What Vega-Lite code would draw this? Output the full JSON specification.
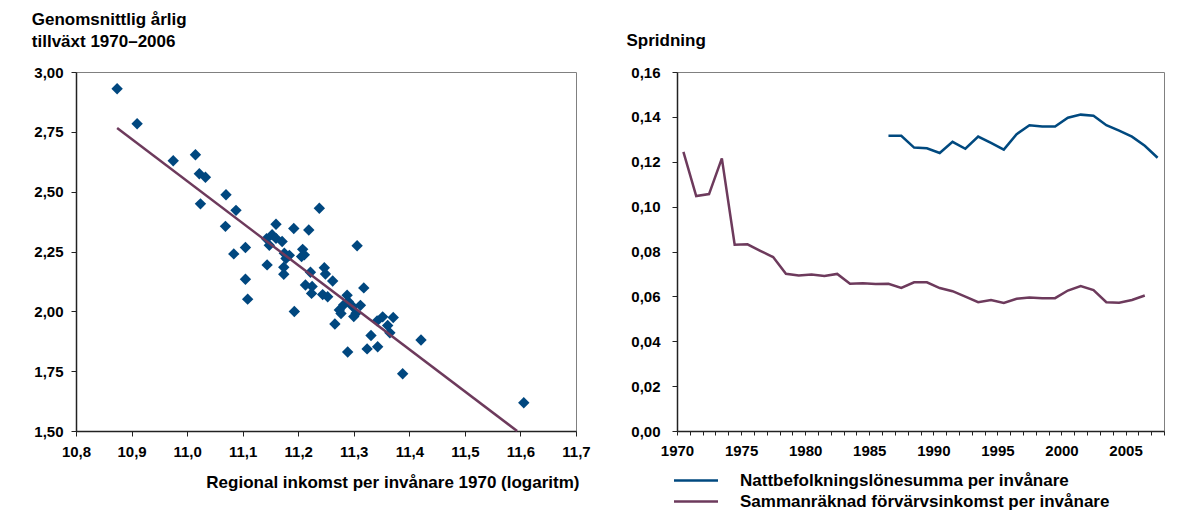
{
  "$schema": "https://vega.github.io/schema/vega-lite/v6.json",
  "background": "white",
  "padding": {"left": 30, "top": 9, "right": 5, "bottom": 5},
  "config": {
    "font": "Liberation Sans",
    "view": {"stroke": "#808080", "strokeWidth": 1},
    "axis": {
      "labelFont": "Liberation Sans", "labelFontWeight": "bold", "labelFontSize": 15, "labelColor": "#000",
      "domainColor": "#222", "domainWidth": 1.5, "tickColor": "#222", "tickSize": 5, "grid": false,
      "titleFont": "Liberation Sans", "titleFontWeight": "bold", "titleColor": "#000",
      "labelFlush": false, "labelOverlap": false
    }
  },
  "bounds": "flush",
  "spacing": 101,
  "hconcat": [
    {
      "width": 500,
      "height": 359,
      "layer": [
        {
          "data": {"values": [
            {"inkomst": 10.874, "tillvaxt": 2.930}, {"inkomst": 10.910, "tillvaxt": 2.784}, {"inkomst": 10.975, "tillvaxt": 2.629},
            {"inkomst": 11.015, "tillvaxt": 2.654}, {"inkomst": 11.022, "tillvaxt": 2.575}, {"inkomst": 11.033, "tillvaxt": 2.560},
            {"inkomst": 11.024, "tillvaxt": 2.449}, {"inkomst": 11.070, "tillvaxt": 2.487}, {"inkomst": 11.088, "tillvaxt": 2.422},
            {"inkomst": 11.069, "tillvaxt": 2.355}, {"inkomst": 11.084, "tillvaxt": 2.240}, {"inkomst": 11.105, "tillvaxt": 2.267},
            {"inkomst": 11.160, "tillvaxt": 2.364}, {"inkomst": 11.192, "tillvaxt": 2.346}, {"inkomst": 11.219, "tillvaxt": 2.340},
            {"inkomst": 11.238, "tillvaxt": 2.431}, {"inkomst": 11.143, "tillvaxt": 2.303}, {"inkomst": 11.153, "tillvaxt": 2.320},
            {"inkomst": 11.160, "tillvaxt": 2.305}, {"inkomst": 11.171, "tillvaxt": 2.292}, {"inkomst": 11.148, "tillvaxt": 2.276},
            {"inkomst": 11.175, "tillvaxt": 2.243}, {"inkomst": 11.184, "tillvaxt": 2.234}, {"inkomst": 11.178, "tillvaxt": 2.221},
            {"inkomst": 11.208, "tillvaxt": 2.259}, {"inkomst": 11.211, "tillvaxt": 2.236}, {"inkomst": 11.206, "tillvaxt": 2.229},
            {"inkomst": 11.144, "tillvaxt": 2.194}, {"inkomst": 11.174, "tillvaxt": 2.184}, {"inkomst": 11.174, "tillvaxt": 2.155},
            {"inkomst": 11.105, "tillvaxt": 2.134}, {"inkomst": 11.109, "tillvaxt": 2.051}, {"inkomst": 11.193, "tillvaxt": 1.999},
            {"inkomst": 11.213, "tillvaxt": 2.110}, {"inkomst": 11.225, "tillvaxt": 2.104}, {"inkomst": 11.224, "tillvaxt": 2.075},
            {"inkomst": 11.222, "tillvaxt": 2.163}, {"inkomst": 11.247, "tillvaxt": 2.182}, {"inkomst": 11.249, "tillvaxt": 2.156},
            {"inkomst": 11.262, "tillvaxt": 2.127}, {"inkomst": 11.244, "tillvaxt": 2.070}, {"inkomst": 11.253, "tillvaxt": 2.061},
            {"inkomst": 11.306, "tillvaxt": 2.274}, {"inkomst": 11.318, "tillvaxt": 2.098}, {"inkomst": 11.288, "tillvaxt": 2.067},
            {"inkomst": 11.290, "tillvaxt": 2.041}, {"inkomst": 11.282, "tillvaxt": 2.027}, {"inkomst": 11.274, "tillvaxt": 2.006},
            {"inkomst": 11.277, "tillvaxt": 1.991}, {"inkomst": 11.298, "tillvaxt": 2.020}, {"inkomst": 11.304, "tillvaxt": 1.992},
            {"inkomst": 11.300, "tillvaxt": 1.978}, {"inkomst": 11.312, "tillvaxt": 2.025}, {"inkomst": 11.266, "tillvaxt": 1.947},
            {"inkomst": 11.331, "tillvaxt": 1.899}, {"inkomst": 11.352, "tillvaxt": 1.977}, {"inkomst": 11.361, "tillvaxt": 1.941},
            {"inkomst": 11.365, "tillvaxt": 1.910}, {"inkomst": 11.371, "tillvaxt": 1.974}, {"inkomst": 11.342, "tillvaxt": 1.960},
            {"inkomst": 11.289, "tillvaxt": 1.830}, {"inkomst": 11.324, "tillvaxt": 1.843}, {"inkomst": 11.343, "tillvaxt": 1.852},
            {"inkomst": 11.421, "tillvaxt": 1.880}, {"inkomst": 11.388, "tillvaxt": 1.739}, {"inkomst": 11.606, "tillvaxt": 1.618}
          ]},
          "mark": {"type": "point", "shape": "diamond", "filled": true, "size": 130, "color": "#00477f", "opacity": 1},
          "encoding": {
            "x": {
              "field": "inkomst", "type": "quantitative",
              "scale": {"domain": [10.8, 11.7], "nice": false, "zero": false},
              "axis": {
                "values": [10.8, 10.9, 11.0, 11.1, 11.2, 11.3, 11.4, 11.5, 11.6, 11.7],
                "labelExpr": "replace(format(datum.value, '.1f'), '.', ',')",
                "labelPadding": 8,
                "title": "Regional inkomst per invånare 1970 (logaritm)",
                "titleFontSize": 17,
                "titleAlign": "right", "titleBaseline": "alphabetic", "titleAngle": 0,
                "titleX": 503, "titleY": 56
              }
            },
            "y": {
              "field": "tillvaxt", "type": "quantitative",
              "scale": {"domain": [1.5, 3.0], "nice": false, "zero": false},
              "axis": {
                "values": [1.5, 1.75, 2.0, 2.25, 2.5, 2.75, 3.0],
                "labelExpr": "replace(format(datum.value, '.2f'), '.', ',')",
                "labelPadding": 8,
                "title": ["Genomsnittlig årlig", "tillväxt 1970–2006"],
                "titleFontSize": 17, "titleLineHeight": 22,
                "titleAngle": 0, "titleAlign": "left", "titleBaseline": "alphabetic",
                "titleX": -44.7, "titleY": -48
              }
            }
          }
        },
        {
          "data": {"values": [
            {"inkomst": 10.874, "tillvaxt": 2.766},
            {"inkomst": 11.594, "tillvaxt": 1.5}
          ]},
          "mark": {"type": "line", "color": "#6d3a5c", "strokeWidth": 2.5},
          "encoding": {
            "x": {"field": "inkomst", "type": "quantitative"},
            "y": {"field": "tillvaxt", "type": "quantitative"}
          }
        }
      ]
    },
    {
      "width": 487,
      "height": 359,
      "data": {"values": [
        {"year": 1970, "series": "Sammanräknad förvärvsinkomst per invånare", "value": 0.1244},
        {"year": 1971, "series": "Sammanräknad förvärvsinkomst per invånare", "value": 0.1047},
        {"year": 1972, "series": "Sammanräknad förvärvsinkomst per invånare", "value": 0.1056},
        {"year": 1973, "series": "Sammanräknad förvärvsinkomst per invånare", "value": 0.1215},
        {"year": 1974, "series": "Sammanräknad förvärvsinkomst per invånare", "value": 0.0830},
        {"year": 1975, "series": "Sammanräknad förvärvsinkomst per invånare", "value": 0.0832},
        {"year": 1976, "series": "Sammanräknad förvärvsinkomst per invånare", "value": 0.0803},
        {"year": 1977, "series": "Sammanräknad förvärvsinkomst per invånare", "value": 0.0775},
        {"year": 1978, "series": "Sammanräknad förvärvsinkomst per invånare", "value": 0.0701},
        {"year": 1979, "series": "Sammanräknad förvärvsinkomst per invånare", "value": 0.0693},
        {"year": 1980, "series": "Sammanräknad förvärvsinkomst per invånare", "value": 0.0697},
        {"year": 1981, "series": "Sammanräknad förvärvsinkomst per invånare", "value": 0.0691},
        {"year": 1982, "series": "Sammanräknad förvärvsinkomst per invånare", "value": 0.0700},
        {"year": 1983, "series": "Sammanräknad förvärvsinkomst per invånare", "value": 0.0656},
        {"year": 1984, "series": "Sammanräknad förvärvsinkomst per invånare", "value": 0.0659},
        {"year": 1985, "series": "Sammanräknad förvärvsinkomst per invånare", "value": 0.0655},
        {"year": 1986, "series": "Sammanräknad förvärvsinkomst per invånare", "value": 0.0656},
        {"year": 1987, "series": "Sammanräknad förvärvsinkomst per invånare", "value": 0.0638},
        {"year": 1988, "series": "Sammanräknad förvärvsinkomst per invånare", "value": 0.0663},
        {"year": 1989, "series": "Sammanräknad förvärvsinkomst per invånare", "value": 0.0663},
        {"year": 1990, "series": "Sammanräknad förvärvsinkomst per invånare", "value": 0.0637},
        {"year": 1991, "series": "Sammanräknad förvärvsinkomst per invånare", "value": 0.0623},
        {"year": 1992, "series": "Sammanräknad förvärvsinkomst per invånare", "value": 0.0599},
        {"year": 1993, "series": "Sammanräknad förvärvsinkomst per invånare", "value": 0.0574},
        {"year": 1994, "series": "Sammanräknad förvärvsinkomst per invånare", "value": 0.0584},
        {"year": 1995, "series": "Sammanräknad förvärvsinkomst per invånare", "value": 0.0571},
        {"year": 1996, "series": "Sammanräknad förvärvsinkomst per invånare", "value": 0.0589},
        {"year": 1997, "series": "Sammanräknad förvärvsinkomst per invånare", "value": 0.0595},
        {"year": 1998, "series": "Sammanräknad förvärvsinkomst per invånare", "value": 0.0592},
        {"year": 1999, "series": "Sammanräknad förvärvsinkomst per invånare", "value": 0.0592},
        {"year": 2000, "series": "Sammanräknad förvärvsinkomst per invånare", "value": 0.0626},
        {"year": 2001, "series": "Sammanräknad förvärvsinkomst per invånare", "value": 0.0646},
        {"year": 2002, "series": "Sammanräknad förvärvsinkomst per invånare", "value": 0.0628},
        {"year": 2003, "series": "Sammanräknad förvärvsinkomst per invånare", "value": 0.0574},
        {"year": 2004, "series": "Sammanräknad förvärvsinkomst per invånare", "value": 0.0572},
        {"year": 2005, "series": "Sammanräknad förvärvsinkomst per invånare", "value": 0.0584},
        {"year": 2006, "series": "Sammanräknad förvärvsinkomst per invånare", "value": 0.0604},
        {"year": 1986, "series": "Nattbefolkningslönesumma per invånare", "value": 0.1316},
        {"year": 1987, "series": "Nattbefolkningslönesumma per invånare", "value": 0.1316},
        {"year": 1988, "series": "Nattbefolkningslönesumma per invånare", "value": 0.1263},
        {"year": 1989, "series": "Nattbefolkningslönesumma per invånare", "value": 0.1260},
        {"year": 1990, "series": "Nattbefolkningslönesumma per invånare", "value": 0.1239},
        {"year": 1991, "series": "Nattbefolkningslönesumma per invånare", "value": 0.1289},
        {"year": 1992, "series": "Nattbefolkningslönesumma per invånare", "value": 0.1258},
        {"year": 1993, "series": "Nattbefolkningslönesumma per invånare", "value": 0.1312},
        {"year": 1994, "series": "Nattbefolkningslönesumma per invånare", "value": 0.1284},
        {"year": 1995, "series": "Nattbefolkningslönesumma per invånare", "value": 0.1254},
        {"year": 1996, "series": "Nattbefolkningslönesumma per invånare", "value": 0.1323},
        {"year": 1997, "series": "Nattbefolkningslönesumma per invånare", "value": 0.1363},
        {"year": 1998, "series": "Nattbefolkningslönesumma per invånare", "value": 0.1357},
        {"year": 1999, "series": "Nattbefolkningslönesumma per invånare", "value": 0.1357},
        {"year": 2000, "series": "Nattbefolkningslönesumma per invånare", "value": 0.1396},
        {"year": 2001, "series": "Nattbefolkningslönesumma per invånare", "value": 0.1410},
        {"year": 2002, "series": "Nattbefolkningslönesumma per invånare", "value": 0.1405},
        {"year": 2003, "series": "Nattbefolkningslönesumma per invånare", "value": 0.1363},
        {"year": 2004, "series": "Nattbefolkningslönesumma per invånare", "value": 0.1339},
        {"year": 2005, "series": "Nattbefolkningslönesumma per invånare", "value": 0.1312},
        {"year": 2006, "series": "Nattbefolkningslönesumma per invånare", "value": 0.1271},
        {"year": 2007, "series": "Nattbefolkningslönesumma per invånare", "value": 0.1218}
      ]},
      "mark": {"type": "line", "strokeWidth": 2.5},
      "encoding": {
        "x": {
          "field": "year", "type": "quantitative",
          "scale": {"domain": [1969.5, 2007.5], "nice": false, "zero": false},
          "axis": {
            "values": [1969.5, 1970.5, 1971.5, 1972.5, 1973.5, 1974.5, 1975.5, 1976.5, 1977.5, 1978.5, 1979.5, 1980.5, 1981.5, 1982.5, 1983.5, 1984.5, 1985.5, 1986.5, 1987.5, 1988.5, 1989.5, 1990.5, 1991.5, 1992.5, 1993.5, 1994.5, 1995.5, 1996.5, 1997.5, 1998.5, 1999.5, 2000.5, 2001.5, 2002.5, 2003.5, 2004.5, 2005.5, 2006.5, 2007.5],
            "labelExpr": "((datum.value + 0.5) % 5 == 0 && datum.value < 2006) ? format(datum.value + 0.5, 'd') : ''",
            "labelDx": 6.4,
            "labelPadding": 8,
            "tickSize": 4,
            "title": null
          }
        },
        "y": {
          "field": "value", "type": "quantitative",
          "scale": {"domain": [0, 0.16], "nice": false},
          "axis": {
            "values": [0, 0.02, 0.04, 0.06, 0.08, 0.1, 0.12, 0.14, 0.16],
            "labelExpr": "replace(format(datum.value, '.2f'), '.', ',')",
            "labelPadding": 12,
            "title": "Spridning",
            "titleFontSize": 17,
            "titleAngle": 0, "titleAlign": "left", "titleBaseline": "alphabetic",
            "titleX": -51, "titleY": -27
          }
        },
        "color": {
          "field": "series", "type": "nominal",
          "scale": {
            "domain": ["Nattbefolkningslönesumma per invånare", "Sammanräknad förvärvsinkomst per invånare"],
            "range": ["#00497f", "#6d3a5c"]
          },
          "legend": {
            "orient": "none", "legendX": 611.5, "legendY": 400,
            "title": null,
            "symbolType": "M-4.4,0L4.4,0", "symbolSize": 100, "symbolStrokeWidth": 2.5,
            "labelFont": "Liberation Sans", "labelFontSize": 17, "labelFontWeight": "bold", "labelColor": "#000",
            "labelOffset": 35.5, "rowPadding": 3, "labelLimit": 600, "padding": 0
          }
        }
      }
    }
  ]
}
